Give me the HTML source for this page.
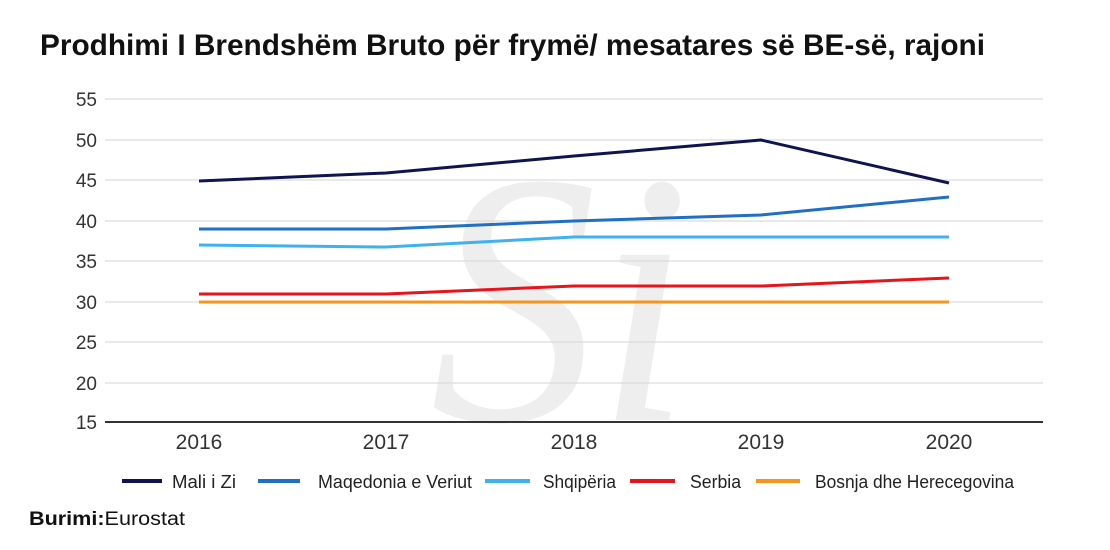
<!DOCTYPE html>
<html><head><meta charset="utf-8"><style>
html,body{margin:0;padding:0;background:#fff;}
svg{display:block;font-family:"Liberation Sans Narrow","Liberation Sans",sans-serif;}
</style></head><body>
<svg width="1110" height="550" viewBox="0 0 1110 550" xmlns="http://www.w3.org/2000/svg">
<rect width="1110" height="550" fill="#fff"/>
<text x="40" y="55" font-size="30" font-weight="bold" fill="#111" textLength="945" lengthAdjust="spacingAndGlyphs">Prodhimi I Brendshëm Bruto për frymë/ mesatares së BE-së, rajoni</text>
<text x="430" y="420" font-family="Liberation Serif,serif" font-style="italic" font-size="360" fill="#eeeeee" textLength="260" lengthAdjust="spacingAndGlyphs">Si</text>
<g stroke="#dcdcdc" stroke-width="1.2">
<line x1="105" x2="1043" y1="99" y2="99"/><line x1="105" x2="1043" y1="140" y2="140"/>
<line x1="105" x2="1043" y1="180" y2="180"/><line x1="105" x2="1043" y1="221" y2="221"/>
<line x1="105" x2="1043" y1="261" y2="261"/><line x1="105" x2="1043" y1="302" y2="302"/>
<line x1="105" x2="1043" y1="342" y2="342"/><line x1="105" x2="1043" y1="383" y2="383"/>
</g>
<line x1="105" x2="1043" y1="422" y2="422" stroke="#333" stroke-width="2"/>
<g font-size="19" fill="#333" text-anchor="end">
<text x="97" y="106">55</text><text x="97" y="147">50</text><text x="97" y="187">45</text>
<text x="97" y="228">40</text><text x="97" y="268">35</text><text x="97" y="309">30</text>
<text x="97" y="349">25</text><text x="97" y="390">20</text><text x="97" y="429">15</text>
</g>
<g font-size="21" fill="#333" text-anchor="middle">
<text x="199" y="449">2016</text><text x="386" y="449">2017</text><text x="574" y="449">2018</text>
<text x="761" y="449">2019</text><text x="949" y="449">2020</text>
</g>
<g fill="none" stroke-width="3" stroke-linejoin="round">
<polyline stroke="#f7941d" points="199,302 386,302 574,302 761,302 949,302"/>
<polyline stroke="#e8141b" points="199,294 386,294 574,286 761,286 949,278"/>
<polyline stroke="#3fb0f0" points="199,245 386,247 574,237 761,237 949,237"/>
<polyline stroke="#1f6fc5" points="199,229 386,229 574,221 761,215 949,197"/>
<polyline stroke="#0d1450" points="199,181 386,173 574,156 761,140 949,183"/>
</g>
<g stroke-width="4">
<line x1="122" x2="162" y1="481" y2="481" stroke="#0d1450"/>
<line x1="258" x2="300" y1="481" y2="481" stroke="#1f6fc5"/>
<line x1="485" x2="530" y1="481" y2="481" stroke="#3fb0f0"/>
<line x1="630" x2="675" y1="481" y2="481" stroke="#e8141b"/>
<line x1="756" x2="800" y1="481" y2="481" stroke="#f7941d"/>
</g>
<g font-size="18" fill="#222">
<text x="172" y="488" textLength="64" lengthAdjust="spacingAndGlyphs">Mali i Zi</text>
<text x="318" y="488" textLength="154" lengthAdjust="spacingAndGlyphs">Maqedonia e Veriut</text>
<text x="543" y="488" textLength="73" lengthAdjust="spacingAndGlyphs">Shqipëria</text>
<text x="690" y="488" textLength="51" lengthAdjust="spacingAndGlyphs">Serbia</text>
<text x="815" y="488" textLength="199" lengthAdjust="spacingAndGlyphs">Bosnja dhe Herecegovina</text>
</g>
<text x="29" y="525" font-size="19" fill="#111" textLength="156" lengthAdjust="spacingAndGlyphs"><tspan font-weight="bold">Burimi:</tspan>Eurostat</text>
</svg>
</body></html>
